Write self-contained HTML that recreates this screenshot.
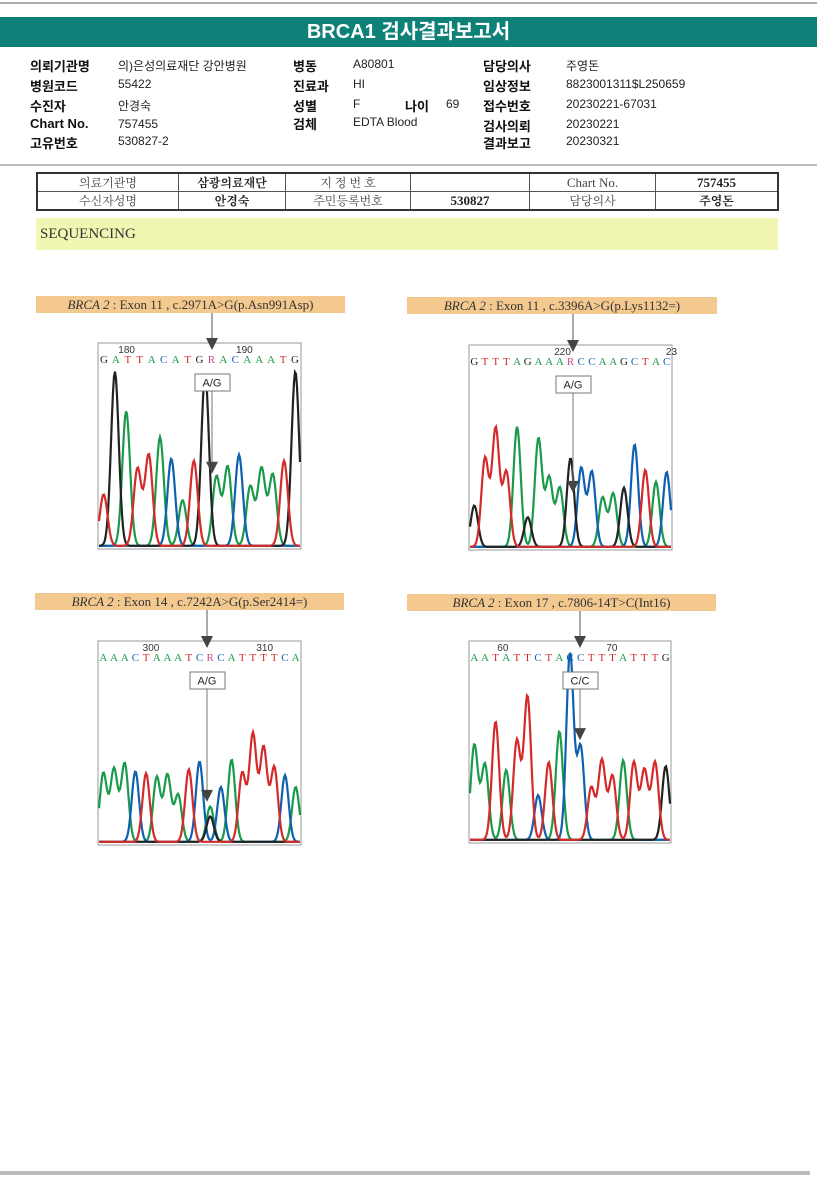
<!DOCTYPE html>
<html><head><meta charset="utf-8">
<style>
body{margin:0;width:817px;height:1187px;background:#fff;position:relative;overflow:hidden;font-family:"Liberation Sans","Noto Sans CJK KR",sans-serif;}
.abs{position:absolute;}
.hl{font-weight:bold;font-size:13px;color:#111;}
.hv{font-size:12px;color:#222;}
.tbar{position:absolute;background:#f4c98f;font-family:"Liberation Serif","Noto Serif CJK SC",serif;font-size:13px;color:#333;line-height:17px;text-align:center;height:17px;}
.tbar i{font-style:italic;}
table{border-collapse:collapse;}
td{border:1px solid #555;font-family:"Liberation Serif","Noto Serif CJK SC",serif;font-size:12px;text-align:center;height:15px;padding:0;color:#444;}
</style></head><body>
<div class="abs" style="left:0;top:2px;width:817px;height:2px;background:#aaa"></div>
<div class="abs" style="left:0;top:17px;width:817px;height:30px;background:#0d8078;color:#fff;font-weight:bold;font-size:20px;line-height:30px;text-align:center">BRCA1 검사결과보고서</div>
<div>
<div class="abs hl" style="left:30px;top:56px">의뢰기관명</div><div class="abs hv" style="left:118px;top:57px">의)은성의료재단 강안병원</div>
<div class="abs hl" style="left:30px;top:76px">병원코드</div><div class="abs hv" style="left:118px;top:77px">55422</div>
<div class="abs hl" style="left:30px;top:96px">수진자</div><div class="abs hv" style="left:118px;top:97px">안경숙</div>
<div class="abs hl" style="left:30px;top:116px">Chart No.</div><div class="abs hv" style="left:118px;top:117px">757455</div>
<div class="abs hl" style="left:30px;top:133px">고유번호</div><div class="abs hv" style="left:118px;top:134px">530827-2</div>
<div class="abs hl" style="left:293px;top:56px">병동</div><div class="abs hv" style="left:353px;top:57px">A80801</div>
<div class="abs hl" style="left:293px;top:76px">진료과</div><div class="abs hv" style="left:353px;top:77px">HI</div>
<div class="abs hl" style="left:293px;top:96px">성별</div><div class="abs hv" style="left:353px;top:97px">F</div>
<div class="abs hl" style="left:405px;top:96px">나이</div><div class="abs hv" style="left:446px;top:97px">69</div>
<div class="abs hl" style="left:293px;top:114px">검체</div><div class="abs hv" style="left:353px;top:115px">EDTA Blood</div>
<div class="abs hl" style="left:483px;top:56px">담당의사</div><div class="abs hv" style="left:566px;top:57px">주영돈</div>
<div class="abs hl" style="left:483px;top:76px">임상정보</div><div class="abs hv" style="left:566px;top:77px">8823001311$L250659</div>
<div class="abs hl" style="left:483px;top:96px">접수번호</div><div class="abs hv" style="left:566px;top:97px">20230221-67031</div>
<div class="abs hl" style="left:483px;top:116px">검사의뢰</div><div class="abs hv" style="left:566px;top:117px">20230221</div>
<div class="abs hl" style="left:483px;top:133px">결과보고</div><div class="abs hv" style="left:566px;top:134px">20230321</div>
</div>
<div class="abs" style="left:0;top:164px;width:817px;height:2px;background:#bbb"></div>
<table class="abs" style="left:36px;top:172px;width:743px;border:2px solid #333">
<tr><td style="width:140px">의료기관명</td><td style="width:106px;font-weight:bold;color:#222">삼광의료재단</td><td style="width:124px">지 정 번 호</td><td style="width:118px"></td><td style="width:125px;font-size:13px">Chart No.</td><td style="font-weight:bold;font-size:13px;color:#222">757455</td></tr>
<tr><td>수신자성명</td><td style="font-weight:bold;color:#222">안경숙</td><td>주민등록번호</td><td style="font-weight:bold;font-size:13px;color:#222">530827</td><td>담당의사</td><td style="font-weight:bold;color:#222">주영돈</td></tr>
</table>
<div class="abs" style="left:36px;top:218px;width:738px;height:32px;background:#f1f7b3;font-family:'Liberation Serif',serif;font-size:15px;line-height:32px;padding-left:4px;color:#333">SEQUENCING</div>

<div class="tbar" style="left:36px;top:296px;width:309px"><i>BRCA 2</i> : Exon 11 , c.2971A&gt;G(p.Asn991Asp)</div>
<div class="tbar" style="left:407px;top:297px;width:310px"><i>BRCA 2</i> : Exon 11 , c.3396A&gt;G(p.Lys1132=)</div>
<div class="tbar" style="left:35px;top:593px;width:309px"><i>BRCA 2</i> : Exon 14 , c.7242A&gt;G(p.Ser2414=)</div>
<div class="tbar" style="left:407px;top:594px;width:309px"><i>BRCA 2</i> : Exon 17 , c.7806-14T&gt;C(Int16)</div>

<svg class="abs" style="left:0;top:0" width="817" height="1187" id="svg"></svg>
<div class="abs" style="left:0;top:1171px;width:810px;height:4px;background:#bbb"></div>

<script>
const seq1 = "GATTACATGRACAAATG";
const seq2 = "GTTTAGAAARCCAAGCTAC";
const seq3 = "AAACTAAATCRCATTTTCA";
const seq4 = "AATATTCTACCTTTATTTG";
const bases1 = ["T","G","A","T","T","A","C","A","T","G","A","A","C","A","A","A","T","G"];
const heights1 = [0.26,0.88,0.68,0.39,0.46,0.55,0.44,0.23,0.43,0.77,0.35,0.40,0.46,0.30,0.39,0.36,0.43,0.88];
const bases2 = ["G","T","T","T","A","G","A","A","A","G","C","C","A","A","G","C","T","A","C"];
const heights2 = [0.21,0.45,0.60,0.38,0.61,0.15,0.55,0.35,0.30,0.25,0.40,0.38,0.25,0.27,0.30,0.52,0.39,0.33,0.38];
const bases3 = ["A","A","A","C","T","A","A","A","T","C","A","C","A","T","T","T","T","C","A"];
const heights3 = [0.35,0.37,0.40,0.36,0.35,0.33,0.34,0.24,0.37,0.41,0.18,0.28,0.42,0.35,0.55,0.48,0.38,0.34,0.28];
const bases4 = ["A","A","T","A","T","T","C","T","A","C","C","T","T","T","A","T","T","T","G"];
const heights4 = [0.49,0.39,0.61,0.36,0.51,0.74,0.23,0.40,0.56,0.87,0.48,0.27,0.41,0.33,0.41,0.40,0.36,0.40,0.38];
const ticks1 = ["180","190"], ticks2 = ["220","23"], ticks3 = ["300","310"], ticks4 = ["60","70"];
const calls = ["A/G","A/G","A/G","C/C"];
const minor = [["G",9,0.10],["G",9,0.20],["G",10,0.13],["C",9,0.10]];
const arrowTips = [0.38,0.29,0.22,0.53];

const COL = {A:"#1a9a4a",C:"#1060b0",G:"#222",T:"#d42a2a",R:"#c0508a"};
const svg = document.getElementById('svg');
const NS = "http://www.w3.org/2000/svg";
function mk(t,a){const e=document.createElementNS(NS,t);for(const k in a)e.setAttribute(k,a[k]);svg.appendChild(e);return e;}

const panels = [
 {x:98,y:343,w:203,h:206,seq:seq1,b:bases1,hh:heights1,t:ticks1,tp:[0.1,0.68],ax:212,ay0:313,call:calls[0],m:minor[0],ah:arrowTips[0]},
 {x:469,y:345,w:203,h:205,seq:seq2,b:bases2,hh:heights2,t:ticks2,tp:[0.42,0.97],ax:573,ay0:314,call:calls[1],m:minor[1],ah:arrowTips[1]},
 {x:98,y:641,w:203,h:204,seq:seq3,b:bases3,hh:heights3,t:ticks3,tp:[0.22,0.78],ax:207,ay0:610,call:calls[2],m:minor[2],ah:arrowTips[2]},
 {x:469,y:641,w:202,h:202,seq:seq4,b:bases4,hh:heights4,t:ticks4,tp:[0.14,0.68],ax:580,ay0:611,call:calls[3],m:minor[3],ah:arrowTips[3]}
];
panels.forEach((p,pi)=>{
 const n=p.b.length;
 const xs=i=>p.x+p.w*(i+0.5)/n;
 const ys=v=>p.y+p.h-2-v*(p.h-8);
 const sig=p.w/n*0.34;
 const frame=mk('rect',{x:p.x,y:p.y,width:p.w,height:p.h,fill:'none',stroke:'#999','stroke-width':1});
 
 
 ['A','C','G','T'].forEach(ch=>{
  let pts=[];
  for(let px=p.x+1;px<=p.x+p.w-1;px+=1){
   let v=0.006;
   p.b.forEach((b,i)=>{ if(b===ch){const d=(px-xs(i))/sig; v+=p.hh[i]*Math.exp(-d*d/2);} });
   if(p.m[0]===ch){const d=(px-xs(p.m[1]))/sig; v+=p.m[2]*Math.exp(-d*d/2);}
   pts.push(px.toFixed(1)+','+ys(Math.min(v,0.97)).toFixed(1));
  }
  const tr=mk('polyline',{points:pts.join(' '),fill:'none',stroke:COL[ch],'stroke-width':2.2});
  
  
 });
 const m=p.seq.length;
 for(let i=0;i<m;i++){
  const t=mk('text',{x:p.x+p.w*(i+0.5)/m,y:p.y+20,'text-anchor':'middle','font-size':11,'font-family':'Liberation Serif, serif',fill:COL[p.seq[i]]});
  t.textContent=p.seq[i];
  
  
 }
 p.t.forEach((tk,k)=>{
  const t=mk('text',{x:p.x+p.w*p.tp[k],y:p.y+10,'font-size':10,'font-family':'Liberation Sans, sans-serif',fill:'#333'});
  t.textContent=tk;
  
  
 });
 mk('line',{x1:p.ax,y1:p.ay0,x2:p.ax,y2:p.y+5,stroke:'#555','stroke-width':1});
 mk('polygon',{points:`${p.ax-6},${p.y-5} ${p.ax+6},${p.y-5} ${p.ax},${p.y+7}`,fill:'#444'});
 const by=p.y+31;
 const ay=ys(p.ah);
 mk('line',{x1:p.ax,y1:by+17,x2:p.ax,y2:ay-8,stroke:'#777','stroke-width':1});
 mk('polygon',{points:`${p.ax-6},${ay-10} ${p.ax+6},${ay-10} ${p.ax},${ay+2}`,fill:'#444'});
 const bx=mk('rect',{x:p.ax-17,y:by,width:35,height:17,fill:'#fff',stroke:'#777'});
 
 
 const ct=mk('text',{x:p.ax,y:by+12.5,'text-anchor':'middle','font-size':11,'font-family':'Liberation Sans, sans-serif',fill:'#222'});
 ct.textContent=p.call;
});
</script>
</body></html>
